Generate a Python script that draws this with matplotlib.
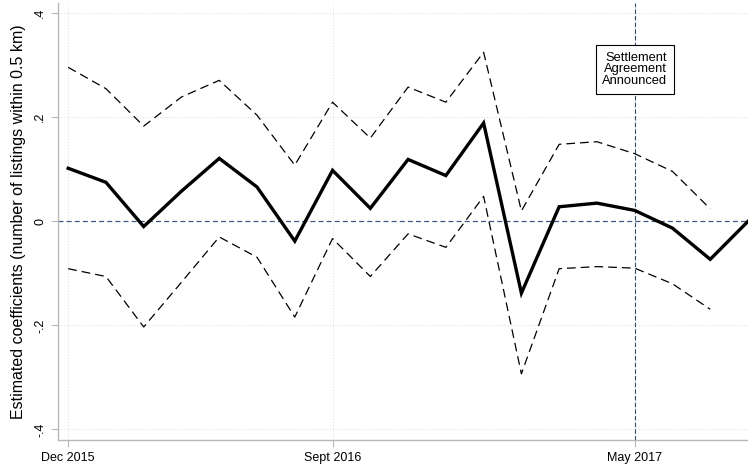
import matplotlib
matplotlib.use("Agg")
import matplotlib.pyplot as plt

plt.rcParams['font.family'] = ['Liberation Sans', 'DejaVu Sans']

# period index (roughly every 5-6 weeks), labelled at three dates
period = list(range(19))
coef = [0.102, 0.075, -0.010, 0.058, 0.121, 0.066, -0.038, 0.098, 0.025, 0.119,
        0.088, 0.189, -0.138, 0.028, 0.035, 0.021, -0.013, -0.073, 0.0]
ci_upper = [0.296, 0.255, 0.183, 0.239, 0.271, 0.204, 0.108, 0.229, 0.160, 0.258,
            0.229, 0.325, 0.020, 0.148, 0.153, 0.130, 0.096, 0.024]
ci_lower = [-0.091, -0.106, -0.203, -0.117, -0.030, -0.069, -0.184, -0.033, -0.106, -0.024,
            -0.050, 0.048, -0.293, -0.091, -0.087, -0.090, -0.120, -0.169]
tick_pos = [0, 7, 15]
tick_labels = ['Dec 2015', 'Sept 2016', 'May 2017']
y_ticks = [-0.4, -0.2, 0, 0.2, 0.4]
y_labels = ['-.4', '-.2', '0', '.2', '.4']
event_period = 15

fig = plt.figure(figsize=(7.48, 4.65), dpi=100)
ax = fig.add_axes([0.0775, 0.054, 0.9225, 0.94])

# grid
for y in y_ticks:
    if y != 0:
        ax.axhline(y, color='#dcdcdc', lw=0.7, ls=(0, (1, 2)), zorder=0)
for x in tick_pos:
    ax.axvline(x, color='#dcdcdc', lw=0.7, ls=(0, (1, 2)), zorder=0)

ax.axhline(0, color='#3d5a80', lw=0.9, ls=(0, (4, 2.5)), zorder=1)
ax.axvline(event_period, color='#2f4a6a', lw=0.8, ls=(0, (4, 2)), zorder=1)

n = len(ci_upper)
ax.plot(period[:n], ci_upper, color='black', lw=0.9, ls=(0, (7, 4)), zorder=2)
ax.plot(period[:n], ci_lower, color='black', lw=0.9, ls=(0, (7, 4)), zorder=2)
ax.plot(period, coef, color='black', lw=2.4, zorder=3, solid_joinstyle='miter')

ax.text(event_period, 0.292, 'Settlement\nAgreement\nAnnounced', ha='center', va='center',
        multialignment='right', fontsize=9.3, linespacing=0.98,
        bbox=dict(boxstyle='square,pad=0.5', fc='white', ec='black', lw=0.8), zorder=4)

ax.set_xlim(-0.27, 18)
ax.set_ylim(-0.42, 0.42)
ax.set_xticks(tick_pos)
ax.set_xticklabels(tick_labels, fontsize=9)
ax.set_yticks(y_ticks)
ax.set_yticklabels(y_labels, fontsize=9, rotation=90, va='center')
ax.set_ylabel('Estimated coefficients (number of listings within 0.5 km)', fontsize=11.5,
              labelpad=6)

for s in ['top', 'right']:
    ax.spines[s].set_visible(False)
for s in ['left', 'bottom']:
    ax.spines[s].set_color('#b8b8b8')
    ax.spines[s].set_linewidth(1.0)
ax.tick_params(color='#b8b8b8', length=5, width=0.8)

fig.savefig('out.png', dpi=100)
